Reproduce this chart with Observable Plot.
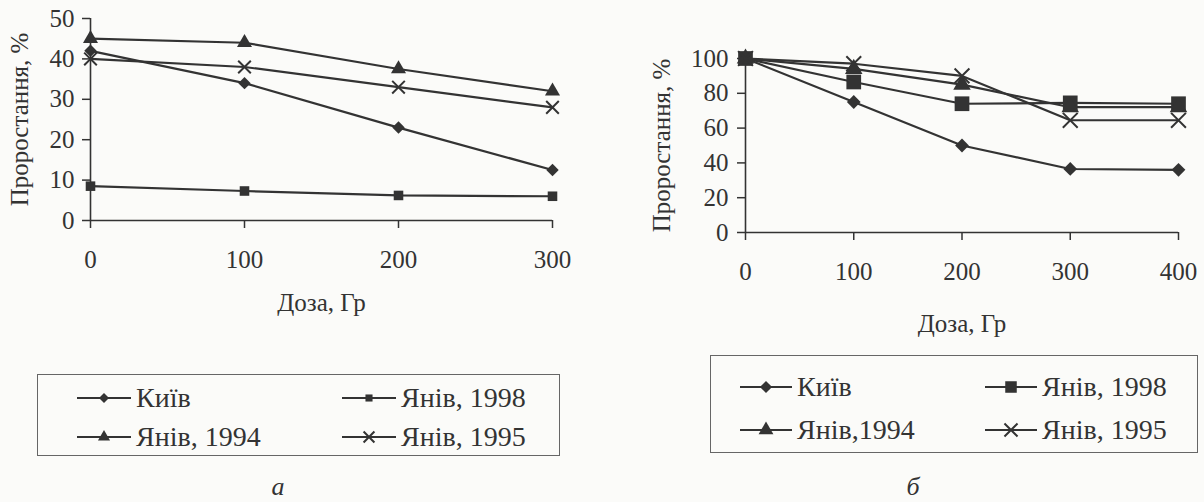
<!DOCTYPE html>
<html><head><meta charset="utf-8">
<script src="https://cdn.jsdelivr.net/npm/d3@7"></script>
<script src="https://cdn.jsdelivr.net/npm/@observablehq/plot@0.6"></script>
<style>
body{margin:0;background:#fbfbf9;}
#root{position:relative;width:1204px;height:502px;overflow:hidden;font-family:"Liberation Serif","Times New Roman",Tinos,"DejaVu Serif",serif;color:#333;}
.panel{position:absolute;}
.panel text{font-family:"Liberation Serif","Times New Roman",Tinos,"DejaVu Serif",serif !important;}
.legend{position:absolute;border:1.5px solid #666;box-sizing:border-box;}
.item{position:absolute;display:flex;align-items:center;white-space:nowrap;line-height:1;}
.item svg{margin-right:5px;}
.cap{position:absolute;font-size:26px;font-style:italic;transform:translate(-50%,-50%);}
</style></head>
<body><div id="root"></div>
<script>
// ---- data ----
const seriesNames = ["Київ", "Янів, 1998", "Янів, 1994", "Янів, 1995"];
const legendNamesA = ["Київ", "Янів, 1998", "Янів, 1994", "Янів, 1995"];
const legendNamesB = ["Київ", "Янів, 1998", "Янів,1994", "Янів, 1995"];
const xLabel = "Доза, Гр";
const yLabel = "Проростання, %";
const captions = ["а", "б"];

const dosesA = [0, 100, 200, 300];
const kyivA = [42, 34, 23, 12.5];
const yaniv1998A = [8.5, 7.3, 6.2, 6];
const yaniv1994A = [45, 44, 37.5, 32];
const yaniv1995A = [40, 38, 33, 28];
const xTicksA = [0, 100, 200, 300];
const yTicksA = [0, 10, 20, 30, 40, 50];

const dosesB = [0, 100, 200, 300, 400];
const kyivB = [100, 75, 50, 36.5, 36];
const yaniv1998B = [100, 86.5, 74, 74.5, 74];
const yaniv1994B = [100, 94, 85, 72, 72];
const yaniv1995B = [100, 97, 90, 64.5, 64.5];
const xTicksB = [0, 100, 200, 300, 400];
const yTicksB = [0, 20, 40, 60, 80, 100];

// ---- styles ----
const INK = "#333";
const FONT = '"Liberation Serif", "Times New Roman", Tinos, "DejaVu Serif", serif';
const symbolOf = {"Київ": "diamond2", "Янів, 1998": "square", "Янів, 1994": "triangle", "Янів, 1995": "times"};
const d3SymbolOf = {"diamond2": d3.symbolDiamond2, "square": d3.symbolSquare, "triangle": d3.symbolTriangle, "times": d3.symbolTimes};

function toRows(doses, lists) {
  const rows = [];
  lists.forEach((vals, k) => doses.forEach((d, i) => rows.push({dose: d, value: vals[i], series: seriesNames[k]})));
  return rows;
}

function makeChart(cfg) {
  const rows = toRows(cfg.doses, cfg.lists);
  const marks = [
    Plot.ruleY([0], {stroke: INK, strokeWidth: 1.6}),
    Plot.ruleX([0], {stroke: INK, strokeWidth: 1.6}),
    Plot.axisX(cfg.xTicks, {tickSize: 8, tickPadding: cfg.xPad, fontSize: 25, fontFamily: FONT, stroke: INK, strokeWidth: 1.5, fill: INK,
      label: xLabel, labelAnchor: "center", labelOffset: cfg.xLabelOffset, labelArrow: "none"}),
    Plot.axisY(cfg.yTicks, {tickSize: 8, tickPadding: cfg.yPad, fontSize: 25, fontFamily: FONT, stroke: INK, strokeWidth: 1.5, fill: INK,
      label: yLabel, labelAnchor: "center", labelOffset: cfg.yLabelOffset, labelArrow: "none"}),
    Plot.line(rows, {x: "dose", y: "value", z: "series", stroke: INK, strokeWidth: 2.2})
  ];
  seriesNames.forEach(name => {
    const sym = symbolOf[name];
    const isStroke = sym === "times";
    marks.push(Plot.dot(rows.filter(r => r.series === name), {
      x: "dose", y: "value", symbol: sym, r: cfg.r[sym],
      fill: isStroke ? "none" : INK, stroke: isStroke ? INK : "none", strokeWidth: isStroke ? 2 : 0
    }));
  });
  const svg = Plot.plot({
    width: cfg.width, height: cfg.height,
    marginLeft: cfg.ml, marginRight: cfg.mr, marginTop: cfg.mt, marginBottom: cfg.mb,
    style: {background: "transparent", fontFamily: FONT, color: INK, fontSize: "25px"},
    x: {domain: [0, cfg.xMax]},
    y: {domain: [0, cfg.yMax]},
    marks
  });
  svg.classList.add("panel");
  svg.style.left = cfg.left + "px";
  svg.style.top = cfg.top + "px";
  return svg;
}

function swatch(sym, w, r) {
  const size = Math.PI * r * r;
  const path = d3.symbol().type(d3SymbolOf[sym]).size(size)();
  const h = 24;
  const isStroke = sym === "times";
  return `<svg width="${w}" height="${h}"><line x1="0" x2="${w}" y1="${h/2}" y2="${h/2}" stroke="${INK}" stroke-width="2"/>` +
    `<path transform="translate(${w/2},${h/2})" d="${path}" fill="${isStroke ? "none" : INK}" stroke="${isStroke ? INK : "none"}" stroke-width="2"/></svg>`;
}

function makeLegend(cfg) {
  const root = document.getElementById("root");
  const box = document.createElement("div");
  box.className = "legend";
  Object.assign(box.style, {left: cfg.box[0] + "px", top: cfg.box[1] + "px", width: cfg.box[2] + "px", height: cfg.box[3] + "px"});
  root.appendChild(box);
  cfg.names.forEach((label, k) => {
    const col = k % 2, row = Math.floor(k / 2);
    const it = document.createElement("div");
    it.className = "item";
    it.style.left = cfg.colX[col] + "px";
    it.style.top = (cfg.rowY[row] - 14) + "px";
    it.style.height = "28px";
    it.style.fontSize = cfg.fontSize + "px";
    it.innerHTML = swatch(symbolOf[seriesNames[k]], cfg.swW, cfg.r[symbolOf[seriesNames[k]]]) + `<span>${label}</span>`;
    root.appendChild(it);
  });
  const cap = document.createElement("div");
  cap.className = "cap";
  cap.textContent = cfg.caption;
  cap.style.left = cfg.capXY[0] + "px";
  cap.style.top = cfg.capXY[1] + "px";
  root.appendChild(cap);
}

const root = document.getElementById("root");
root.appendChild(makeChart({
  doses: dosesA, lists: [kyivA, yaniv1998A, yaniv1994A, yaniv1995A], xTicks: xTicksA, yTicks: yTicksA,
  xMax: 300, yMax: 50, width: 600, height: 320, ml: 90, mr: 48, mt: 18, mb: 100, left: 0, top: 0,
  xPad: 22, yPad: 8, xLabelOffset: 90, yLabelOffset: 80,
  r: {diamond2: 5.6, square: 5.4, triangle: 5.6, times: 5.8}
}));
root.appendChild(makeChart({
  doses: dosesB, lists: [kyivB, yaniv1998B, yaniv1994B, yaniv1995B], xTicks: xTicksB, yTicks: yTicksB,
  xMax: 400, yMax: 100, width: 564, height: 340, ml: 105, mr: 26, mt: 58, mb: 108, left: 640, top: 0,
  xPad: 22, yPad: 9, xLabelOffset: 99, yLabelOffset: 93,
  r: {diamond2: 6.2, square: 8.3, triangle: 6.5, times: 6.8}
}));
makeLegend({names: legendNamesA, box: [37, 374, 523, 82], colX: [77, 342], rowY: [398, 437], swW: 54, fontSize: 28,
  r: {diamond2: 4.5, square: 4, triangle: 4.5, times: 5}, caption: captions[0], capXY: [278, 487]});
makeLegend({names: legendNamesB, box: [710, 355, 488, 98], colX: [740, 985], rowY: [387, 430], swW: 52, fontSize: 28,
  r: {diamond2: 5.5, square: 6.5, triangle: 5.5, times: 6}, caption: captions[1], capXY: [913, 487]});
</script>
</body></html>
